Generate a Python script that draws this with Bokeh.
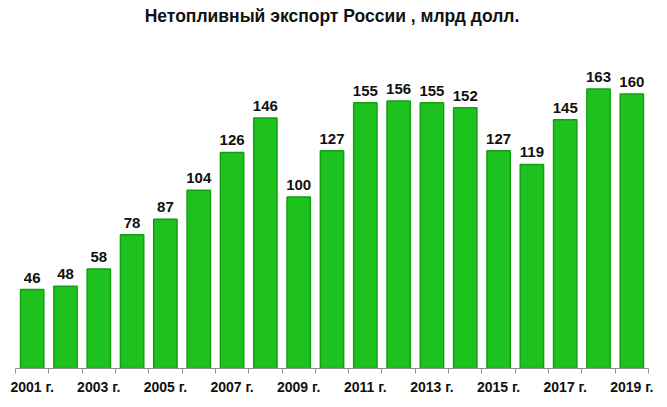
import numpy as np
from bokeh.plotting import figure
from bokeh.models import ColumnDataSource, FixedTicker, Range1d
from bokeh.embed import file_html
from bokeh.resources import INLINE

years = [str(y) for y in range(2001, 2020)]
values = [46, 48, 58, 78, 87, 104, 126, 146, 100, 127, 155, 156, 155, 152, 127, 119, 145, 163, 160]
tick_labels = [f"{y} г." for y in range(2001, 2020, 2)]

x = np.arange(len(years)) + 0.5
src = ColumnDataSource(dict(x=x, top=values, label=[str(v) for v in values]))

p = figure(width=659, height=399, output_backend="svg", toolbar_location=None,
           x_range=Range1d(0, len(years)), y_range=Range1d(0, 200),
           min_border_left=15, min_border_right=11, min_border_top=25, min_border_bottom=31,
           title="Нетопливный экспорт России , млрд долл.")
p.title.align = "center"
p.title.standoff = 0
p.title.text_font = "Liberation Sans"
p.title.text_font_style = "bold"
p.title.text_font_size = "17.5px"
p.title.text_color = "#111111"

p.vbar(x="x", top="top", width=0.70, bottom=0, source=src,
       fill_color="#1EC21E", line_color="#12A012", line_width=1.5)
p.text(x="x", y="top", text="label", source=src, text_align="center", text_baseline="bottom",
       y_offset=-7, text_font_size="15px", text_font_style="bold", text_color="#111111",
       text_font={"value": "Liberation Sans"})

p.yaxis.visible = False
p.xgrid.visible = False
p.ygrid.visible = False
p.outline_line_color = None

label_pos = [x[i] for i in range(0, len(years), 2)]
p.xaxis.ticker = FixedTicker(ticks=label_pos, minor_ticks=list(range(len(years) + 1)))
p.xaxis.major_label_overrides = {float(pos): lab for pos, lab in zip(label_pos, tick_labels)}
p.xaxis.major_tick_line_color = None
p.xaxis.major_tick_out = 0
p.xaxis.major_tick_in = 0
p.xaxis.minor_tick_out = 5
p.xaxis.minor_tick_in = 0
p.xaxis.minor_tick_line_color = "#909090"
p.xaxis.axis_line_color = "#909090"
p.xaxis.major_label_standoff = 5
p.xaxis.major_label_text_line_height = 1.0
p.xaxis.axis_label_standoff = 0
p.xaxis.major_label_text_font = "Liberation Sans"
p.xaxis.major_label_text_font_style = "bold"
p.xaxis.major_label_text_font_size = "14px"
p.xaxis.major_label_text_color = "#111111"

open("out.html", "w").write(file_html(p, INLINE))
